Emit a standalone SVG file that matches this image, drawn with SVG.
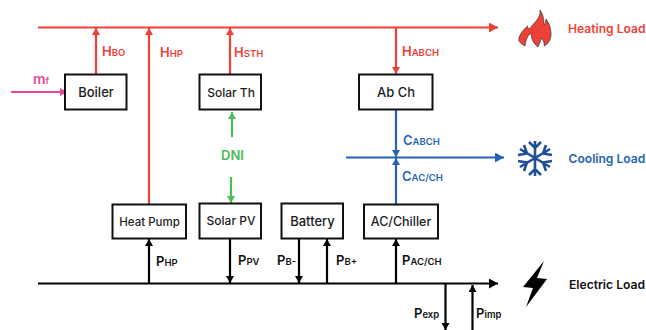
<svg xmlns="http://www.w3.org/2000/svg" width="646" height="330" viewBox="0 0 646 330">
<style>
text{font-family:Inter,"Liberation Sans",sans-serif;font-weight:600}
.box{fill:#fff;stroke:#111;stroke-width:2}
.n{font-size:12px;font-weight:500;fill:#1c1c1e;text-anchor:middle}
.l{font-size:13px}
.s{font-size:9.500px}
.r{fill:#ee4036}.b{fill:#2563b4}.k{fill:#111}.g{fill:#4cbb5a}.p{fill:#e8489a}
.lr,.lb,.lk,.lg,.lp{fill:none;stroke-width:2.200}
.lr{stroke:#ee4036}.lb{stroke:#2563b4}.lk{stroke:#000}.lg{stroke:#4cbb5a}.lp{stroke:#e8489a}
.load{font-size:12.100px}
</style>
<defs>
<marker id="ar" markerUnits="userSpaceOnUse" markerWidth="8" markerHeight="8" refX="7" refY="4" orient="auto"><path d="M0 0L7 4L0 8Z" fill="#ee4036"/></marker>
<marker id="ab" markerUnits="userSpaceOnUse" markerWidth="8" markerHeight="8" refX="7" refY="4" orient="auto"><path d="M0 0L7 4L0 8Z" fill="#2563b4"/></marker>
<marker id="ak" markerUnits="userSpaceOnUse" markerWidth="8" markerHeight="8" refX="7" refY="4" orient="auto"><path d="M0 0L7 4L0 8Z" fill="#000"/></marker>
<marker id="ag" markerUnits="userSpaceOnUse" markerWidth="8" markerHeight="8" refX="7" refY="4" orient="auto"><path d="M0 0L7 4L0 8Z" fill="#4cbb5a"/></marker>
<marker id="ap" markerUnits="userSpaceOnUse" markerWidth="8" markerHeight="8" refX="7" refY="4" orient="auto"><path d="M0 0L7 4L0 8Z" fill="#e8489a"/></marker>
<marker id="arL" markerUnits="userSpaceOnUse" markerWidth="10" markerHeight="10" refX="9" refY="5" orient="auto"><path d="M0 0L9 5L0 10Z" fill="#ee4036"/></marker>
<marker id="abL" markerUnits="userSpaceOnUse" markerWidth="10" markerHeight="10" refX="9" refY="5" orient="auto"><path d="M0 0L9 5L0 10Z" fill="#2563b4"/></marker>
<marker id="akL" markerUnits="userSpaceOnUse" markerWidth="10" markerHeight="10" refX="9" refY="5" orient="auto"><path d="M0 0L9 5L0 10Z" fill="#000"/></marker>
</defs>
<g id="connectors">
<path class="lr" d="M38 27.500H498" marker-end="url(#arL)"/>
<path class="lr" d="M96 74V28" marker-end="url(#ar)"/>
<path class="lr" d="M149 204V28" marker-end="url(#ar)"/>
<path class="lr" d="M230 74V28" marker-end="url(#ar)"/>
<path class="lr" d="M396 28V74" marker-end="url(#ar)"/>
<path class="lp" d="M11 92H67" marker-end="url(#ap)"/>
<path class="lg" d="M232 137V112" marker-end="url(#ag)"/>
<path class="lg" d="M231 177V203" marker-end="url(#ag)"/>
<path class="lb" d="M396 109V157" marker-end="url(#ab)"/>
<path class="lb" d="M396 204V158" marker-end="url(#ab)"/>
<path class="lb" d="M346 157.500H504" marker-end="url(#abL)"/>
<path class="lk" d="M38 283.500H498" marker-end="url(#akL)"/>
<path class="lk" d="M149 283V239" marker-end="url(#ak)"/>
<path class="lk" d="M230 238V283" marker-end="url(#ak)"/>
<path class="lk" d="M299 238V283" marker-end="url(#ak)"/>
<path class="lk" d="M327 283V239" marker-end="url(#ak)"/>
<path class="lk" d="M396 283V239" marker-end="url(#ak)"/>
<path class="lk" d="M445.500 284V330" marker-end="url(#ak)"/>
<path class="lk" d="M472.500 330V285" marker-end="url(#ak)"/>
</g>
<g id="boiler"><rect class="box" x="65" y="74.500" width="61.500" height="35"/><text class="n" style="font-size:13px" x="96" y="97">Boiler</text></g>
<g id="solar-th"><rect class="box" x="199.500" y="74.500" width="61.500" height="35"/><text class="n" x="231" y="96.500">Solar Th</text></g>
<g id="ab-ch"><rect class="box" x="359" y="74.500" width="73.500" height="35"/><text class="n" style="font-size:13px" x="396" y="97">Ab Ch</text></g>
<g id="heat-pump"><rect class="box" x="112.500" y="204.500" width="73.500" height="34"/><text class="n" style="font-size:11.500px" x="149.500" y="225.500">Heat Pump</text></g>
<g id="solar-pv"><rect class="box" x="199.500" y="203.500" width="61.500" height="35"/><text class="n" x="231" y="225">Solar PV</text></g>
<g id="battery"><rect class="box" x="281.500" y="203.500" width="61.500" height="35"/><text class="n" style="font-size:13px" x="312.500" y="226">Battery</text></g>
<g id="ac-chiller"><rect class="box" x="364" y="204.500" width="74" height="34"/><text class="n" style="font-size:12.500px" x="401" y="226">AC/Chiller</text></g>
<g id="labels">
<text class="l r" x="102" y="56">H<tspan class="s">BO</tspan></text>
<text class="l r" x="160" y="57">H<tspan class="s">HP</tspan></text>
<text class="l r" x="234" y="57">H<tspan class="s">STH</tspan></text>
<text class="l r" x="402" y="56">H<tspan class="s">ABCH</tspan></text>
<text class="p" style="font-size:14px" x="33" y="84">m<tspan style="font-size:9px">f</tspan></text>
<text class="l g" x="221" y="160">DNI</text>
<text class="l b" x="403" y="145">C<tspan class="s">ABCH</tspan></text>
<text class="l b" x="402" y="181">C<tspan class="s">AC/CH</tspan></text>
<text class="l k" x="156" y="266">P<tspan class="s">HP</tspan></text>
<text class="l k" x="238" y="265">P<tspan class="s">PV</tspan></text>
<text class="l k" x="277" y="265">P<tspan class="s">B-</tspan></text>
<text class="l k" x="336" y="265">P<tspan class="s">B+</tspan></text>
<text class="l k" x="402" y="265">P<tspan class="s">AC/CH</tspan></text>
<text class="l k" x="414" y="318">P<tspan class="s">exp</tspan></text>
<text class="l k" x="476" y="318">P<tspan class="s">imp</tspan></text>
</g>
<g id="heating-load">
<path d="M540 10C541 17 536 21 531 27C529 29 528 30 527.500 26C523 30 518 36 519 41C520 43 522 44 525 46C526 40 527 36 531 33C531 38 533 43 538 47C539 44 541 41 541 38C543 40 545 43 544 46C548 44 551 40 551 34C551 28 549 23 546 19C546 22 545 24 544 25C544 19 543 14 540 10Z" fill="#ee4036" stroke="#333" stroke-width=".7"/>
<text class="load r" x="568" y="32.500">Heating Load</text>
</g>
<g id="cooling-load">
<path d="M535 141V176M520 149L550 167M550 149L520 167M529 142L535 148L541 142M529 175L535 169L541 175M518 155L527 153.500L524 145M552 155L543 153.500L546 145M518 161L527 162.500L524 171M552 161L543 162.500L546 171" fill="none" stroke="#1f4f99" stroke-width="2.600"/>
<text class="load b" x="568.500" y="162.500">Cooling Load</text>
</g>
<g id="electric-load">
<path d="M544 261L523 287L533 288L526 307L547 279L537 278Z" fill="#000"/>
<text class="load k" x="569" y="288.500">Electric Load</text>
</g>
</svg>
